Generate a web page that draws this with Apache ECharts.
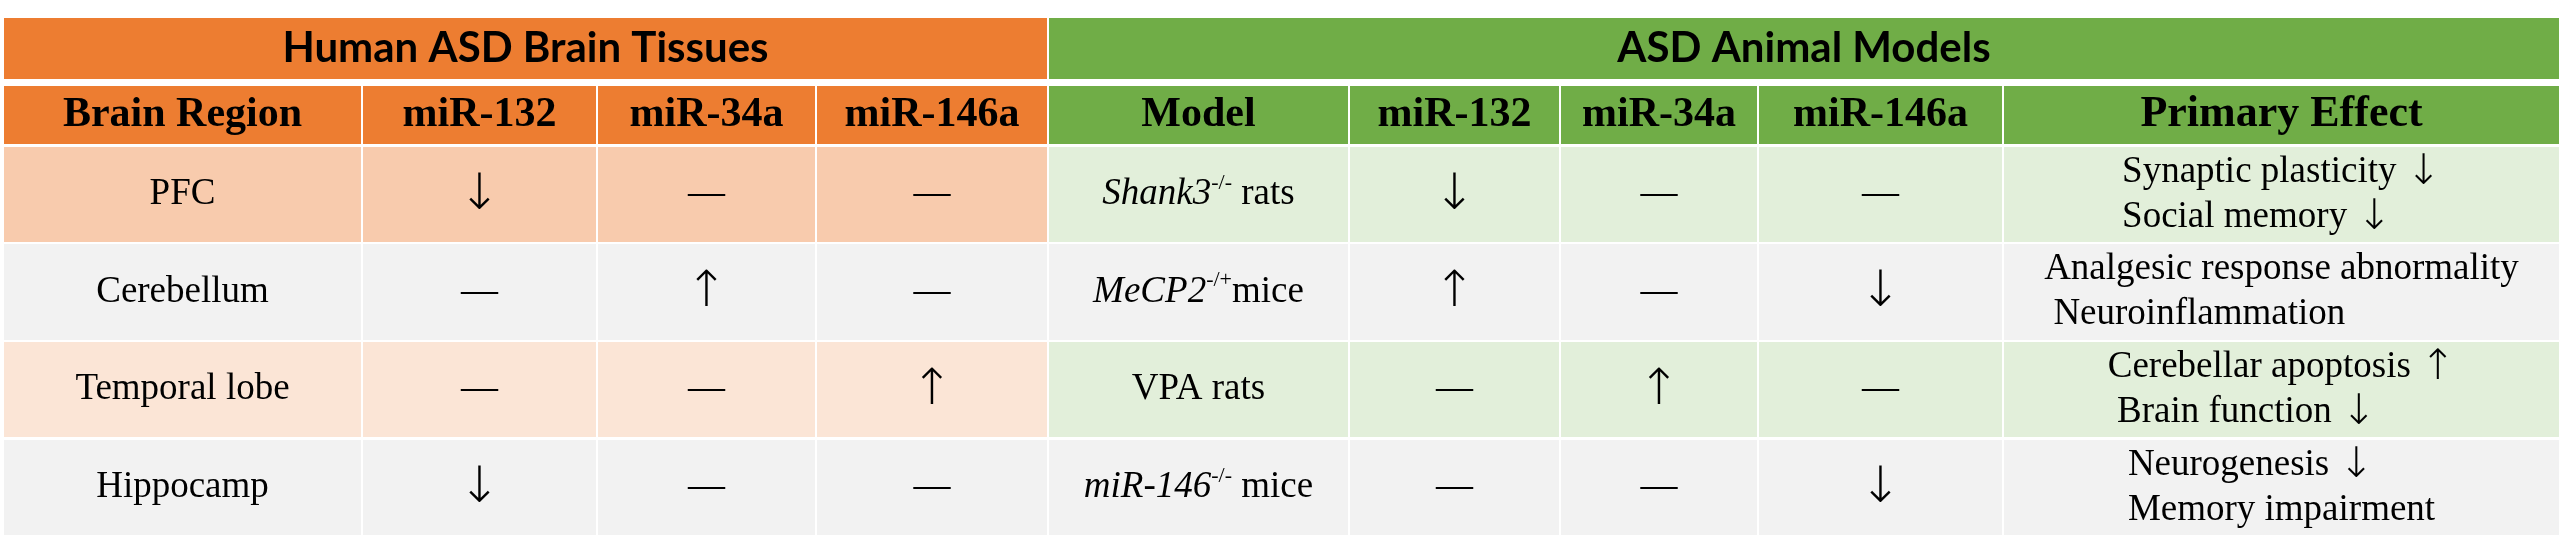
<!DOCTYPE html>
<html>
<head>
<meta charset="utf-8">
<script src="https://cdn.jsdelivr.net/npm/echarts@6/dist/echarts.min.js"></script>
<style>
html, body { margin: 0; padding: 0; background: #fff; }
#main { width: 2567px; height: 552px; }
</style>
</head>
<body>
<div id="main"></div>
<script>
// table content
var groupTitles = ['Human ASD Brain Tissues', 'ASD Animal Models'];
var humanHeaders = ['Brain Region', 'miR-132', 'miR-34a', 'miR-146a'];
var animalHeaders = ['Model', 'miR-132', 'miR-34a', 'miR-146a', 'Primary Effect'];
var brainRegions = ['PFC', 'Cerebellum', 'Temporal lobe', 'Hippocamp'];
var humanChanges = [
    ['down', 'none', 'none'],
    ['none', 'up', 'none'],
    ['none', 'none', 'up'],
    ['down', 'none', 'none']
];
// i = italic gene name, sup = genotype, n = plain
var animalModels = [
    '{i|Shank3}{sup|-/-}{n| rats}',
    '{i|MeCP2}{sup|-/+}{n|mice}',
    '{n|VPA rats}',
    '{i|miR-146}{sup|-/-}{n| mice}'
];
var animalChanges = [
    ['down', 'none', 'none'],
    ['up', 'none', 'down'],
    ['none', 'up', 'none'],
    ['none', 'none', 'down']
];
var primaryEffects = [
    ['Synaptic plasticity ↓', 'Social memory ↓'],
    ['Analgesic response abnormality', ' Neuroinflammation'],
    ['Cerebellar apoptosis ↑', ' Brain function ↓'],
    ['Neurogenesis ↓', 'Memory impairment']
];
var changeMarks = {up: '↑', down: '↓', none: '—'};

// layout (px units on the hidden axes)
var colWidths = [359, 235, 219, 232, 301, 211, 198, 245, 557];
var rowBands = [[0, 61], [68, 126], [129, 224], [226, 322], [324, 419], [422, 517]];
var orange = '#ED7D31';
var green = '#70AD47';
var humanFills = ['#F8CBAD', '#F2F2F2', '#FBE5D6', '#F2F2F2'];
var animalFills = ['#E2EFDA', '#F2F2F2', '#E2EFDA', '#F2F2F2'];

var serif = '"Liberation Serif", "Times New Roman", serif';
var bodyFont = '37px ' + serif;
var markArrowFont = '300 50px "Noto Sans", "DejaVu Sans"';
var lineArrowFont = '300 42px "Noto Sans", "DejaVu Sans"';

var colEdges = [0];
for (var k = 0; k < colWidths.length; k++) {
    colEdges.push(colEdges[k] + colWidths[k]);
}

function withArrows(line) {
    return '{l|' + line.replace(/([↑↓])/g, '}{ar|$1}{l|') + '}';
}

var cells = [];
cells.push({c0: 0, c1: 4, row: 0, text: groupTitles[0], kind: 'title', fill: orange});
cells.push({c0: 4, c1: 9, row: 0, text: groupTitles[1], kind: 'title', fill: green});
for (var h = 0; h < humanHeaders.length; h++) {
    cells.push({c0: h, c1: h + 1, row: 1, text: humanHeaders[h], kind: 'head', fill: orange});
}
for (var a = 0; a < animalHeaders.length; a++) {
    cells.push({c0: 4 + a, c1: 5 + a, row: 1, text: animalHeaders[a], kind: 'head', fill: green});
}
for (var r = 0; r < brainRegions.length; r++) {
    cells.push({c0: 0, c1: 1, row: r + 2, text: brainRegions[r], kind: 'body', fill: humanFills[r]});
    for (var m = 0; m < 3; m++) {
        cells.push({c0: 1 + m, c1: 2 + m, row: r + 2, text: changeMarks[humanChanges[r][m]], kind: 'mark', fill: humanFills[r]});
    }
    cells.push({c0: 4, c1: 5, row: r + 2, text: animalModels[r], kind: 'model', fill: animalFills[r]});
    for (var n = 0; n < 3; n++) {
        cells.push({c0: 5 + n, c1: 6 + n, row: r + 2, text: changeMarks[animalChanges[r][n]], kind: 'mark', fill: animalFills[r]});
    }
    cells.push({c0: 8, c1: 9, row: r + 2, text: primaryEffects[r].map(withArrows).join('\n'), kind: 'effect', fill: animalFills[r]});
}

var cellData = cells.map(function (c, i) {
    return [colEdges[c.c0], colEdges[c.c1], rowBands[c.row][0], rowBands[c.row][1], i];
});

function textStyle(cell) {
    var st = {text: cell.text, fill: '#000', align: 'center', verticalAlign: 'middle',
        textAlign: 'center', textVerticalAlign: 'middle', font: bodyFont};
    if (cell.kind == 'title') {
        st.font = 'bold 42px Lato';
    } else if (cell.kind == 'head') {
        st.font = (cell.text == 'Primary Effect' ? 'bold 44px ' : 'bold 42px ') + serif;
    } else if (cell.kind == 'mark') {
        if (cell.text != '—') st.font = markArrowFont;
    } else if (cell.kind == 'model') {
        st.rich = {
            i: {font: 'italic 37px ' + serif, lineHeight: 45},
            sup: {font: '22px ' + serif, lineHeight: 34, verticalAlign: 'top'},
            n: {font: bodyFont, lineHeight: 45}
        };
    } else if (cell.kind == 'effect') {
        st.rich = {
            l: {font: bodyFont, lineHeight: 45, align: 'left'},
            ar: {font: lineArrowFont, lineHeight: 45, align: 'left'}
        };
    }
    return st;
}

var myChart = echarts.init(document.getElementById('main'));
myChart.setOption({
    animation: false,
    grid: {left: 3, top: 18, width: colEdges[colEdges.length - 1], height: rowBands[rowBands.length - 1][1]},
    xAxis: {type: 'value', min: 0, max: colEdges[colEdges.length - 1], show: false},
    yAxis: {type: 'value', min: 0, max: rowBands[rowBands.length - 1][1], inverse: true, show: false},
    series: [{
        type: 'custom',
        data: cellData,
        encode: {x: [0, 1], y: [2, 3]},
        renderItem: function (params, api) {
            var cell = cells[api.value(4)];
            var p0 = api.coord([api.value(0), api.value(2)]);
            var p1 = api.coord([api.value(1), api.value(3)]);
            var x0 = p0[0] + 1, x1 = p1[0] - 1;
            var y0 = Math.min(p0[1], p1[1]), y1 = Math.max(p0[1], p1[1]);
            return {
                type: 'group',
                children: [{
                    type: 'rect',
                    shape: {x: x0, y: y0, width: x1 - x0, height: y1 - y0},
                    style: {fill: cell.fill}
                }, {
                    type: 'text',
                    x: (x0 + x1) / 2,
                    y: (y0 + y1) / 2,
                    style: textStyle(cell)
                }]
            };
        }
    }]
});
</script>
</body>
</html>
